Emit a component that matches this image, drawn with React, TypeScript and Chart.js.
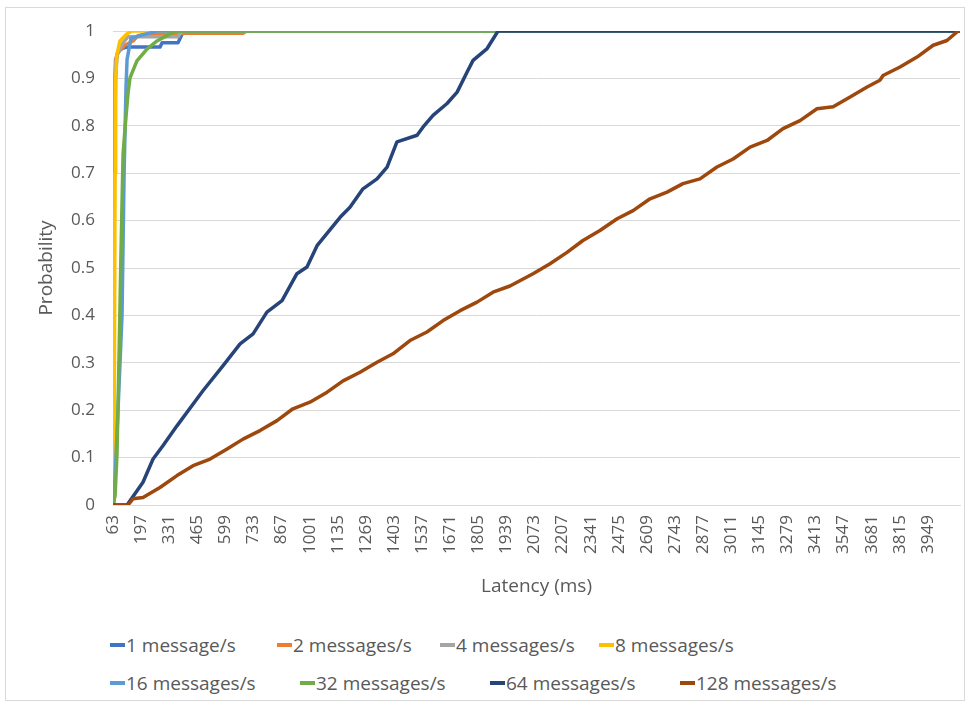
import React, { useEffect, useRef } from "react";
import { Chart, registerables } from "chart.js";

Chart.register(...registerables);

// ---- Data ----
const seriesNames = [
  "1 message/s",
  "2 messages/s",
  "4 messages/s",
  "8 messages/s",
  "16 messages/s",
  "32 messages/s",
  "64 messages/s",
  "128 messages/s",
];
const seriesColors = ["#4472C4", "#ED7D31", "#A5A5A5", "#FFC000", "#5B9BD5", "#70AD47", "#264478", "#9E480E"];

const xTickLabels = [
  63, 197, 331, 465, 599, 733, 867, 1001, 1135, 1269, 1403, 1537, 1671, 1805, 1939, 2073, 2207, 2341, 2475, 2609,
  2743, 2877, 3011, 3145, 3279, 3413, 3547, 3681, 3815, 3949,
];
const latencyMin = 63;
const latencyMax = 4102;

const lat1 = [63, 66, 70, 75, 82, 96, 111, 135, 287, 297, 373, 392, 406, 4100];
const prob1 = [0, 0.3, 0.7, 0.9, 0.951, 0.96, 0.964, 0.966, 0.966, 0.975, 0.975, 0.993, 1, 1];

const lat2 = [63, 65, 67, 70, 75, 87, 120, 158, 182, 230, 683, 700, 4100];
const prob2 = [0, 0.4, 0.75, 0.88, 0.94, 0.955, 0.97, 0.979, 0.99, 0.995, 0.995, 1, 1];

const lat4 = [63, 65, 68, 72, 78, 87, 111, 135, 373, 392, 4100];
const prob4 = [0, 0.5, 0.8, 0.9, 0.94, 0.955, 0.975, 0.988, 0.988, 1, 1];

const lat8 = [63, 66, 70, 73, 76, 82, 96, 130, 154, 4100];
const prob8 = [0, 0.02, 0.3, 0.7, 0.9, 0.951, 0.979, 0.994, 1, 1];

const lat16 = [63, 68, 73, 87, 106, 116, 125, 130, 149, 273, 4100];
const prob16 = [0, 0.03, 0.06, 0.2, 0.4, 0.7, 0.88, 0.94, 0.985, 1, 1];

const lat32 = [63, 73, 82, 92, 101, 111, 125, 135, 144, 177, 225, 273, 335, 368, 4100];
const prob32 = [0, 0.02, 0.107, 0.318, 0.53, 0.74, 0.82, 0.87, 0.901, 0.937, 0.962, 0.979, 0.994, 1, 1];

const lat64 = [
  63, 130, 206, 254, 301, 368, 492, 588, 669, 731, 797, 869, 940, 988, 1036, 1146, 1193, 1255, 1322, 1370, 1417, 1513,
  1541, 1589, 1656, 1704, 1751, 1780, 1847, 1899, 4100,
];
const prob64 = [
  0, 0, 0.048, 0.097, 0.125, 0.167, 0.241, 0.294, 0.34, 0.361, 0.407, 0.431, 0.488, 0.502, 0.547, 0.607, 0.628, 0.667,
  0.688, 0.713, 0.766, 0.78, 0.797, 0.822, 0.847, 0.871, 0.913, 0.938, 0.963, 1, 1,
];

const lat128 = [
  63, 135, 158, 206, 287, 368, 445, 526, 607, 683, 764, 845, 921, 1002, 1084, 1160, 1241, 1322, 1398, 1479, 1560, 1637,
  1718, 1799, 1875, 1956, 2066, 2147, 2228, 2304, 2385, 2467, 2543, 2624, 2705, 2781, 2862, 2943, 3020, 3101, 3182,
  3258, 3339, 3420, 3497, 3578, 3659, 3720, 3735, 3816, 3897, 3974, 4040, 4093,
];
const prob128 = [
  0, 0, 0.013, 0.016, 0.037, 0.062, 0.083, 0.097, 0.118, 0.139, 0.157, 0.178, 0.203, 0.217, 0.238, 0.262, 0.28, 0.301,
  0.319, 0.347, 0.365, 0.389, 0.41, 0.428, 0.449, 0.462, 0.488, 0.509, 0.533, 0.558, 0.579, 0.604, 0.621, 0.646, 0.66,
  0.678, 0.688, 0.713, 0.73, 0.755, 0.769, 0.794, 0.811, 0.836, 0.84, 0.861, 0.882, 0.896, 0.906, 0.924, 0.945, 0.97,
  0.98, 1,
];

const latencies = [lat1, lat2, lat4, lat8, lat16, lat32, lat64, lat128];
const probabilities = [prob1, prob2, prob4, prob8, prob16, prob32, prob64, prob128];

const FONT = "'Open Sans', 'Noto Sans', sans-serif";
const TEXT = "#595959";

// legend layout (pixel positions of each entry)
const legendRowTops = [631, 669];
const legendRowLefts = [
  [110, 277, 440, 599],
  [110, 300, 490, 680],
];

export default function App() {
  const canvasRef = useRef<HTMLCanvasElement | null>(null);

  useEffect(() => {
    if (!canvasRef.current) return;
    const datasets = seriesNames.map((name, i) => ({
      label: name,
      data: latencies[i].map((x, j) => ({ x, y: probabilities[i][j] })),
      borderColor: seriesColors[i],
      backgroundColor: seriesColors[i],
      borderWidth: 3.5,
      pointRadius: 0,
      tension: 0,
      fill: false,
      borderJoinStyle: "round" as const,
      borderCapStyle: "round" as const,
      order: -i,
    }));

    const chart = new Chart(canvasRef.current, {
      type: "line",
      data: { datasets },
      options: {
        animation: false,
        responsive: false,
        maintainAspectRatio: false,
        layout: { padding: { left: 35, right: 8, top: 31, bottom: 1 } },
        plugins: { legend: { display: false }, tooltip: { enabled: false } },
        scales: {
          x: {
            type: "linear",
            min: latencyMin,
            max: latencyMax,
            afterBuildTicks: (scale: any) => {
              scale.ticks = xTickLabels.map((v) => ({ value: v }));
            },
            afterFit: (scale: any) => {
              scale.height = 94;
            },
            ticks: {
              autoSkip: false,
              minRotation: 90,
              maxRotation: 90,
              padding: 10,
              color: TEXT,
              font: { family: FONT, size: 17 },
              callback: (v: any) => String(v),
            },
            grid: { display: false, drawTicks: false },
            border: { display: true, color: "#D9D9D9", width: 1 },
            title: {
              display: true,
              text: "Latency (ms)",
              color: TEXT,
              font: { family: FONT, size: 19 },
              padding: { top: 0, bottom: 1 },
            },
          },
          y: {
            min: 0,
            max: 1,
            afterFit: (scale: any) => {
              scale.width = 78;
            },
            ticks: {
              stepSize: 0.1,
              padding: 18,
              color: TEXT,
              font: { family: FONT, size: 17 },
              callback: (v: any) => String(Number(Number(v).toFixed(1))),
            },
            grid: { color: "#D9D9D9", lineWidth: 1, drawTicks: false },
            border: { display: false },
            title: {
              display: true,
              text: "Probability",
              color: TEXT,
              font: { family: FONT, size: 19 },
              padding: { top: 0, bottom: 0 },
            },
          },
        },
      },
    });
    return () => chart.destroy();
  }, []);

  return (
    <div style={{ position: "absolute", left: 0, top: 0, width: 968, height: 707, background: "#fff", fontFamily: FONT }}>
      <div
        style={{
          position: "absolute",
          left: 5,
          top: 7,
          width: 960,
          height: 694,
          border: "1px solid #D9D9D9",
          boxSizing: "border-box",
        }}
      />
      <canvas ref={canvasRef} width={968} height={600} style={{ position: "absolute", left: 0, top: 0 }} />
      {seriesNames.map((name, idx) => {
        const r = Math.floor(idx / 4);
        const k = idx % 4;
        return (
          <div
            key={name}
            style={{
              position: "absolute",
              left: legendRowLefts[r][k],
              top: legendRowTops[r],
              height: 28,
              display: "flex",
              alignItems: "center",
            }}
          >
            <span
              style={{
                display: "inline-block",
                width: 15,
                height: 3.5,
                background: seriesColors[idx],
                marginRight: 1,
              }}
            />
            <span style={{ fontSize: 19, color: TEXT, whiteSpace: "nowrap" }}>{name}</span>
          </div>
        );
      })}
    </div>
  );
}
